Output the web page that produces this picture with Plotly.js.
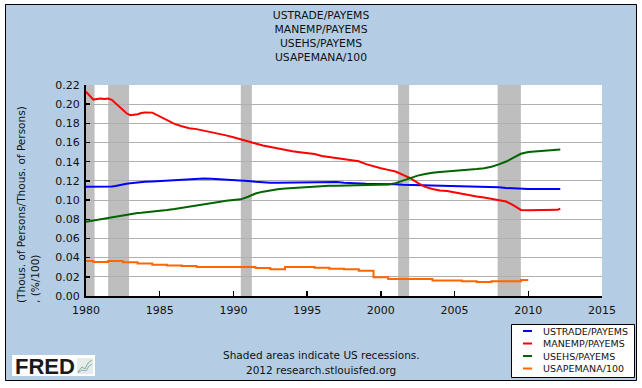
<!DOCTYPE html>
<html>
<head>
<meta charset="utf-8">
<script src="https://cdn.plot.ly/plotly-3.0.1.min.js"></script>
<style>html,body{margin:0;padding:0;background:#fff;}#chart{width:642px;height:388px;}</style>
</head>
<body>
<div id="chart"></div>
<script>
// ---- data ----
var seriesNames = ["USTRADE/PAYEMS", "MANEMP/PAYEMS", "USEHS/PAYEMS", "USAPEMANA/100"];
var seriesColors = ["#0000FF", "#FF0000", "#006400", "#FF6600"];

var dates = [1980.0,1980.25,1980.5,1980.75,1981.0,1981.25,1981.5,1981.75,1982.0,1982.25,1982.5,1982.75,
  1983.0,1983.25,1983.5,1983.75,1984.0,1984.5,1985.0,1985.5,1986.0,1986.5,1987.0,1987.5,1988.0,1988.5,
  1989.0,1989.5,1990.0,1990.5,1991.0,1991.5,1992.0,1992.5,1993.0,1993.5,1994.0,1994.5,1995.0,1995.5,
  1996.0,1996.5,1997.0,1997.5,1998.0,1998.5,1999.0,1999.5,2000.0,2000.5,2001.0,2001.5,2002.0,2002.5,
  2003.0,2003.5,2004.0,2004.5,2005.0,2005.5,2006.0,2006.5,2007.0,2007.5,2008.0,2008.5,2009.0,2009.5,
  2010.0,2010.5,2011.0,2011.5,2012.0,2012.17];

var ustrade = [0.1138,0.1138,0.1138,0.1138,0.1140,0.1142,0.1145,0.1142,0.1148,0.1158,0.1165,0.1170,
  0.1175,0.1180,0.1185,0.1188,0.1190,0.1195,0.1200,0.1208,0.1213,0.1218,0.1222,0.1224,0.1226,0.1222,
  0.1218,0.1215,0.1213,0.1208,0.1200,0.1192,0.1185,0.1182,0.1182,0.1183,0.1185,0.1188,0.1190,0.1192,
  0.1192,0.1190,0.1188,0.1182,0.1176,0.1172,0.1170,0.1168,0.1168,0.1166,0.1165,0.1160,0.1158,0.1158,
  0.1157,0.1155,0.1153,0.1151,0.1150,0.1148,0.1146,0.1140,0.1135,0.1136,0.1134,0.1126,0.1120,0.1117,
  0.1116,0.1116,0.1116,0.1116,0.1116,0.1116];

var manemp = [0.2130,0.2090,0.2048,0.2055,0.2060,0.2055,0.2058,0.2045,0.2010,0.1985,0.1950,0.1905,
  0.1885,0.1888,0.1895,0.1908,0.1914,0.1912,0.1875,0.1835,0.1795,0.1770,0.1750,0.1740,0.1725,0.1702,
  0.1690,0.1675,0.1655,0.1632,0.1605,0.1590,0.1570,0.1555,0.1535,0.1520,0.1510,0.1500,0.1490,0.1480,
  0.1460,0.1448,0.1435,0.1425,0.1418,0.1405,0.1375,0.1350,0.1332,0.1315,0.1298,0.1262,0.1228,0.1180,
  0.1138,0.1116,0.1100,0.1094,0.1078,0.1066,0.1052,0.1038,0.1026,0.1012,0.1002,0.0985,0.0945,0.0897,
  0.0895,0.0895,0.0896,0.0896,0.0898,0.0912];

var usehs = [0.0775,0.0782,0.0788,0.0795,0.0800,0.0805,0.0810,0.0817,0.0825,0.0832,0.0840,0.0848,
  0.0855,0.0860,0.0865,0.0868,0.0871,0.0878,0.0888,0.0897,0.0907,0.0918,0.0930,0.0942,0.0952,0.0963,
  0.0980,0.0992,0.0997,0.1008,0.1035,0.1068,0.1088,0.1102,0.1113,0.1120,0.1125,0.1130,0.1137,0.1143,
  0.1147,0.1149,0.1150,0.1152,0.1153,0.1154,0.1155,0.1158,0.1160,0.1163,0.1177,0.1205,0.1232,0.1255,
  0.1272,0.1286,0.1292,0.1297,0.1303,0.1309,0.1316,0.1324,0.1333,0.1348,0.1372,0.1402,0.1442,0.1483,
  0.1502,0.1509,0.1515,0.1521,0.1527,0.1528];

var years = [1980,1981,1982,1983,1984,1985,1986,1987,1988,1989,1990,1991,1992,1993,1994,1995,1996,
  1997,1998,1999,2000,2001,2002,2003,2004,2005,2006,2007,2008,2009,2010];
var usapemana = [0.0365,0.0355,0.0365,0.0352,0.0340,0.0325,0.0318,0.0312,0.0302,0.0302,0.0302,0.0302,
  0.0292,0.0280,0.0302,0.0302,0.0295,0.0285,0.0280,0.0262,0.0195,0.0178,0.0176,0.0176,0.0162,0.0162,
  0.0155,0.0145,0.0155,0.0155,0.0166];

var recessionStart = [1980.0, 1981.5, 1990.5, 2001.17, 2007.92];
var recessionEnd   = [1980.58, 1982.92, 1991.25, 2001.92, 2009.5];

var titleLines = ["USTRADE/PAYEMS", "MANEMP/PAYEMS", "USEHS/PAYEMS", "USAPEMANA/100"];
var yTitleLines = ["(Thous. of Persons/Thous. of Persons)", ", (%/100)"];
var sourceLines = ["Shaded areas indicate US recessions.", "2012 research.stlouisfed.org"];

// ---- layout helpers (pixel -> paper) ----
var W = 642, H = 388, ML = 86, MR = 40, MT = 85, MB = 92;
var PW = W - ML - MR, PH = H - MT - MB;
function px(x) { return (x - ML) / PW; }
function py(y) { return (H - MB - y) / PH; }

var FONT = "DejaVu Sans, Verdana, sans-serif";
var TXT = "#111111";
var BG = "#B4CDE4";

var traces = [
  {x: dates, y: ustrade, name: seriesNames[0], mode: "lines", line: {color: seriesColors[0], width: 2}},
  {x: dates, y: manemp, name: seriesNames[1], mode: "lines", line: {color: seriesColors[1], width: 2}},
  {x: dates, y: usehs, name: seriesNames[2], mode: "lines", line: {color: seriesColors[2], width: 2}},
  {x: years, y: usapemana, name: seriesNames[3], mode: "lines", line: {color: seriesColors[3], width: 2, shape: "hvh"}}
];

var shapes = [];
// recessions
for (var i = 0; i < recessionStart.length; i++) {
  shapes.push({type: "rect", xref: "x", yref: "paper", x0: recessionStart[i], x1: recessionEnd[i], y0: 0, y1: 1,
    fillcolor: "#BEBEBE", line: {width: 0}, layer: "between"});
}
// white outer frame + black border
shapes.push({type: "rect", xref: "paper", yref: "paper", x0: px(0), x1: px(5), y0: py(0), y1: py(388), fillcolor: "#fff", line: {width: 0}, layer: "below"});
shapes.push({type: "rect", xref: "paper", yref: "paper", x0: px(637), x1: px(642), y0: py(0), y1: py(388), fillcolor: "#fff", line: {width: 0}, layer: "below"});
shapes.push({type: "rect", xref: "paper", yref: "paper", x0: px(0), x1: px(642), y0: py(0), y1: py(4), fillcolor: "#fff", line: {width: 0}, layer: "below"});
shapes.push({type: "rect", xref: "paper", yref: "paper", x0: px(0), x1: px(642), y0: py(381), y1: py(388), fillcolor: "#fff", line: {width: 0}, layer: "below"});
shapes.push({type: "rect", xref: "paper", yref: "paper", x0: px(5.5), x1: px(636.5), y0: py(4.5), y1: py(380.5), line: {color: "#000", width: 1}, layer: "below"});

// legend box (manual)
shapes.push({type: "rect", xref: "paper", yref: "paper", x0: px(511.5), x1: px(634.5), y0: py(324.5), y1: py(377.5),
  fillcolor: "#fff", line: {color: "#000", width: 1}});
var legendRows = [331, 343.5, 356, 368.5];
var annotations = [];
for (var k = 0; k < seriesNames.length; k++) {
  shapes.push({type: "line", xref: "paper", yref: "paper", x0: px(523), x1: px(532), y0: py(legendRows[k]), y1: py(legendRows[k]),
    line: {color: seriesColors[k], width: 2}});
  annotations.push({xref: "paper", yref: "paper", x: px(541), y: py(legendRows[k]), xanchor: "left", yanchor: "middle",
    text: seriesNames[k], showarrow: false, font: {family: FONT, size: 9.5, color: TXT}});
}

// FRED logo
shapes.push({type: "rect", xref: "paper", yref: "paper", x0: px(12), x1: px(95), y0: py(355), y1: py(376), fillcolor: "#fff", line: {width: 0}});
shapes.push({type: "rect", xref: "paper", yref: "paper", x0: px(77), x1: px(93), y0: py(358), y1: py(374), fillcolor: "#E6ECEE", line: {width: 0}});
shapes.push({type: "path", xref: "paper", yref: "paper",
  path: "M" + px(78) + "," + py(372) + " L" + px(82) + "," + py(367) + " L" + px(85) + "," + py(369) + " L" + px(88) + "," + py(363) + " L" + px(92) + "," + py(360),
  line: {color: "#7FB36B", width: 1}});
shapes.push({type: "path", xref: "paper", yref: "paper",
  path: "M" + px(78) + "," + py(373) + " L" + px(82) + "," + py(370) + " L" + px(86) + "," + py(371) + " L" + px(89) + "," + py(366) + " L" + px(92) + "," + py(364),
  line: {color: "#8FA9D6", width: 1}});
annotations.push({xref: "paper", yref: "paper", x: px(13), y: py(366), xanchor: "left", yanchor: "middle",
  text: "<b>FRED</b>", showarrow: false, font: {family: "Liberation Sans, Arial, sans-serif", size: 22, color: "#1a1a1a"}});

// source lines
annotations.push({xref: "paper", yref: "paper", x: px(321), y: py(355), xanchor: "center", yanchor: "middle",
  text: sourceLines[0], showarrow: false, font: {family: FONT, size: 10.5, color: TXT}});
annotations.push({xref: "paper", yref: "paper", x: px(321), y: py(370), xanchor: "center", yanchor: "middle",
  text: sourceLines[1], showarrow: false, font: {family: FONT, size: 10.5, color: TXT}});

// y-axis title (left-aligned lines, rotated)
annotations.push({xref: "paper", yref: "paper", x: px(28), y: py(205), xanchor: "center", yanchor: "middle",
  text: yTitleLines.join("<br>"), align: "left", textangle: -90, showarrow: false,
  font: {family: FONT, size: 10.5, color: TXT}});

var layout = {
  width: W, height: H,
  margin: {l: ML, r: MR, t: MT, b: MB, pad: 0},
  paper_bgcolor: BG,
  plot_bgcolor: "#FFFFFF",
  showlegend: false,
  title: {text: titleLines.join("<br>"), x: 0.5, xref: "container", xanchor: "center",
    y: 1 - 19 / H, yref: "container", yanchor: "top",
    font: {family: FONT, size: 10.8, color: TXT}},
  xaxis: {range: [1980, 2015], tick0: 1980, dtick: 5, showgrid: false, zeroline: false,
    showline: true, linecolor: "#000", linewidth: 2, ticks: "inside", ticklen: 5, tickwidth: 1.5, tickcolor: "#000",
    tickfont: {family: FONT, size: 11, color: TXT}, ticklabelstandoff: 3},
  yaxis: {range: [0, 0.22], tick0: 0, dtick: 0.02, tickformat: ".2f", showgrid: true, gridcolor: "#B0B0B0", gridwidth: 1,
    zeroline: false, showline: true, linecolor: "#000", linewidth: 2, ticks: "inside", ticklen: 4, tickwidth: 1.5, tickcolor: "#000",
    tickfont: {family: FONT, size: 11, color: TXT}, ticklabelstandoff: 2},
  shapes: shapes,
  annotations: annotations
};

Plotly.newPlot("chart", traces, layout, {staticPlot: true, displayModeBar: false});
</script>
</body>
</html>
